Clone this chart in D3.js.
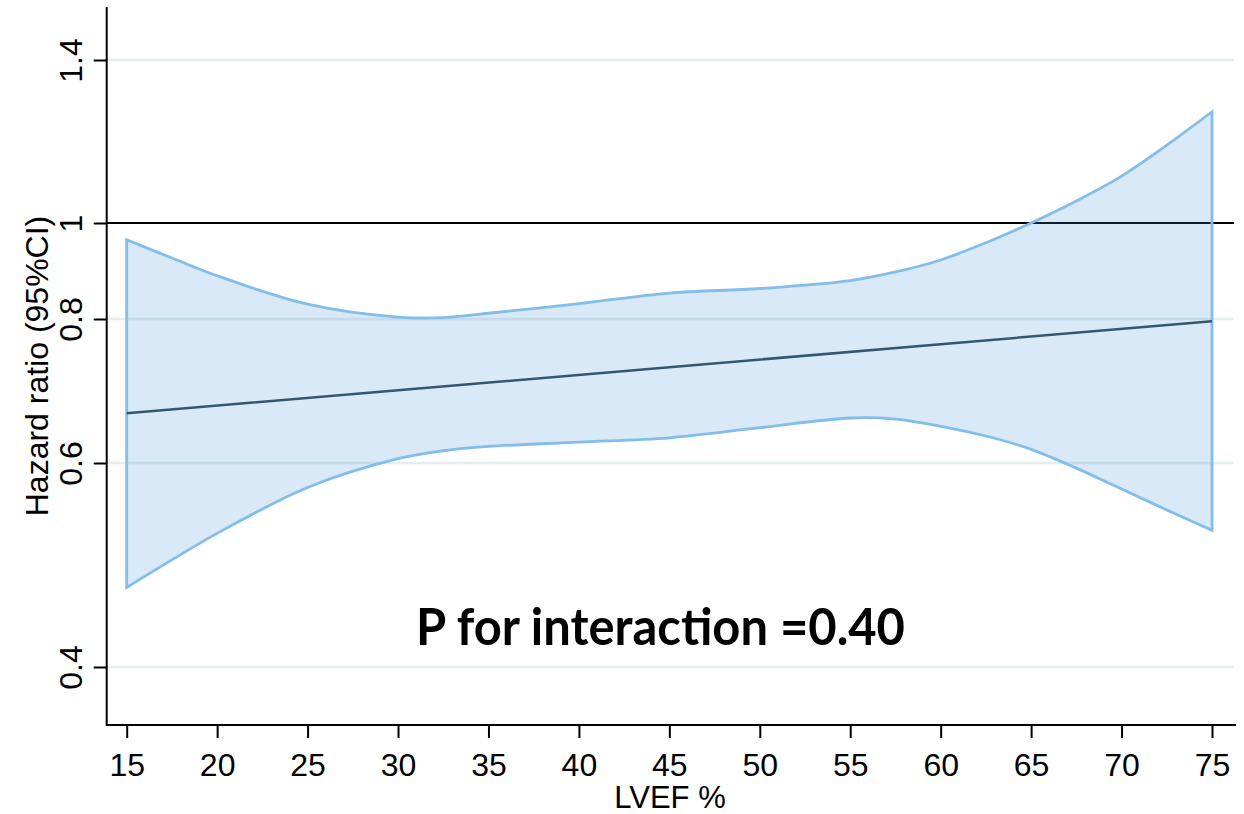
<!DOCTYPE html>
<html>
<head>
<meta charset="utf-8">
<script src="https://cdn.jsdelivr.net/npm/d3@7"></script>
<style>
  body { margin: 0; background: #fff; }
  text { font-family: "Liberation Sans", Arial, sans-serif; fill: #000; }
</style>
</head>
<body>
<div id="chart"></div>
<script>
var lvef = [15, 17.5, 20, 25, 30, 32.5, 35, 40, 45, 50, 55, 57.5, 60, 62.5, 65, 67.5, 70, 72.5, 75];
var upperCI = [0.965, 0.927, 0.890, 0.831, 0.804, 0.803, 0.812, 0.832, 0.854, 0.8635, 0.880, 0.898, 0.923, 0.959, 1.000, 1.054, 1.115, 1.191, 1.273];
var lowerCI = [0.478, 0.505, 0.531, 0.576, 0.606, 0.617, 0.623, 0.629, 0.635, 0.649, 0.6625, 0.661, 0.651, 0.6375, 0.619, 0.595, 0.5745, 0.554, 0.534];

// hazard ratio line (straight)
var hrX = [15, 30, 45, 60, 75];
var hrY = [0.669, 0.701, 0.733, 0.765, 0.797];

var xTicks = [15, 20, 25, 30, 35, 40, 45, 50, 55, 60, 65, 70, 75];
var yTicks = [0.4, 0.6, 0.8, 1.4];
var refValue = 1;
var yTickLabels = ["0.4", "0.6", "0.8", "1", "1.4"];

var svgWidth = 1244;
var svgHeight = 814;

var plot = { left: 106.7, right: 1236, top: 7, bottom: 725 };

var svg = d3.select("#chart")
  .append("svg")
  .attr("width", svgWidth)
  .attr("height", svgHeight);

var xScale = d3.scaleLinear()
  .domain([15, 75])
  .range([126.7, 1212]);

// the y axis is not evenly spaced, so use a piecewise scale through the labelled ticks
var yScale = d3.scaleLinear()
  .domain([0.4, 0.6, 0.8, 1, 1.4])
  .range([667, 463, 319, 223, 60]);

// grid lines
svg.append("g")
  .selectAll("line")
  .data(yTicks)
  .enter()
  .append("line")
  .attr("x1", plot.left)
  .attr("x2", plot.right - 2)
  .attr("y1", d => yScale(d))
  .attr("y2", d => yScale(d))
  .attr("stroke", "#e4eef1")
  .attr("stroke-width", 2.5);

// reference line at HR = 1
svg.append("line")
  .attr("x1", plot.left)
  .attr("x2", plot.right - 2)
  .attr("y1", yScale(refValue))
  .attr("y2", yScale(refValue))
  .attr("stroke", "#000")
  .attr("stroke-width", 2);

// confidence band
var band = lvef.map((d, i) => ({ x: d, lo: lowerCI[i], hi: upperCI[i] }));

var area = d3.area()
  .x(d => xScale(d.x))
  .y0(d => yScale(d.lo))
  .y1(d => yScale(d.hi))
  .curve(d3.curveCatmullRom.alpha(0.5));

svg.append("path")
  .datum(band)
  .attr("d", area)
  .attr("fill", "#3f93d8")
  .attr("fill-opacity", 0.2)
  .attr("stroke", "#82bee9")
  .attr("stroke-width", 2.8)
  .attr("stroke-linejoin", "miter");

// hazard ratio line
var hr = hrX.map((d, i) => ({ x: d, y: hrY[i] }));
svg.append("path")
  .datum(hr)
  .attr("d", d3.line().x(d => xScale(d.x)).y(d => yScale(d.y)))
  .attr("fill", "none")
  .attr("stroke", "#35566f")
  .attr("stroke-width", 2.5);

// axes
var bottomAxis = d3.axisBottom(xScale)
  .tickValues(xTicks)
  .tickSize(13)
  .tickFormat(d3.format("d"));

var xAxis = svg.append("g")
  .attr("transform", `translate(0, ${plot.bottom})`)
  .call(bottomAxis);
xAxis.select(".domain").remove();
xAxis.selectAll("line").attr("stroke", "#000").attr("stroke-width", 2);
xAxis.selectAll("text")
  .attr("y", 51)
  .attr("dy", 0)
  .style("font-size", "32px")
  .style("font-family", "'Liberation Sans', Arial, sans-serif");

var leftAxis = d3.axisLeft(yScale)
  .tickValues([0.4, 0.6, 0.8, 1, 1.4])
  .tickSize(13)
  .tickFormat((d, i) => yTickLabels[i]);

var yAxis = svg.append("g")
  .attr("transform", `translate(${plot.left}, 0)`)
  .call(leftAxis);
yAxis.select(".domain").remove();
yAxis.selectAll("line").attr("stroke", "#000").attr("stroke-width", 2);
yAxis.selectAll("text")
  .attr("transform", "rotate(-90)")
  .attr("x", 0)
  .attr("y", -25)
  .attr("dy", 0)
  .attr("text-anchor", "middle")
  .style("font-size", "32px")
  .style("font-family", "'Liberation Sans', Arial, sans-serif");

// axis lines
svg.append("path")
  .attr("d", `M${plot.left},${plot.top}V${plot.bottom}H${plot.right}`)
  .attr("fill", "none")
  .attr("stroke", "#000")
  .attr("stroke-width", 2);

// axis titles
svg.append("text")
  .attr("transform", `translate(48, 366) rotate(-90)`)
  .attr("text-anchor", "middle")
  .style("font-size", "32px")
  .text("Hazard ratio (95%CI)");

svg.append("text")
  .attr("x", 670)
  .attr("y", 808)
  .attr("text-anchor", "middle")
  .style("font-size", "31px")
  .text("LVEF %");

// annotation
svg.append("text")
  .attr("x", 660.5)
  .attr("y", 645)
  .attr("text-anchor", "middle")
  .attr("textLength", 489)
  .attr("lengthAdjust", "spacingAndGlyphs")
  .style("font-family", "Lato, 'Open Sans', sans-serif")
  .style("font-weight", "bold")
  .style("font-size", "52px")
  .text("P for interaction =0.40");
</script>
</body>
</html>
